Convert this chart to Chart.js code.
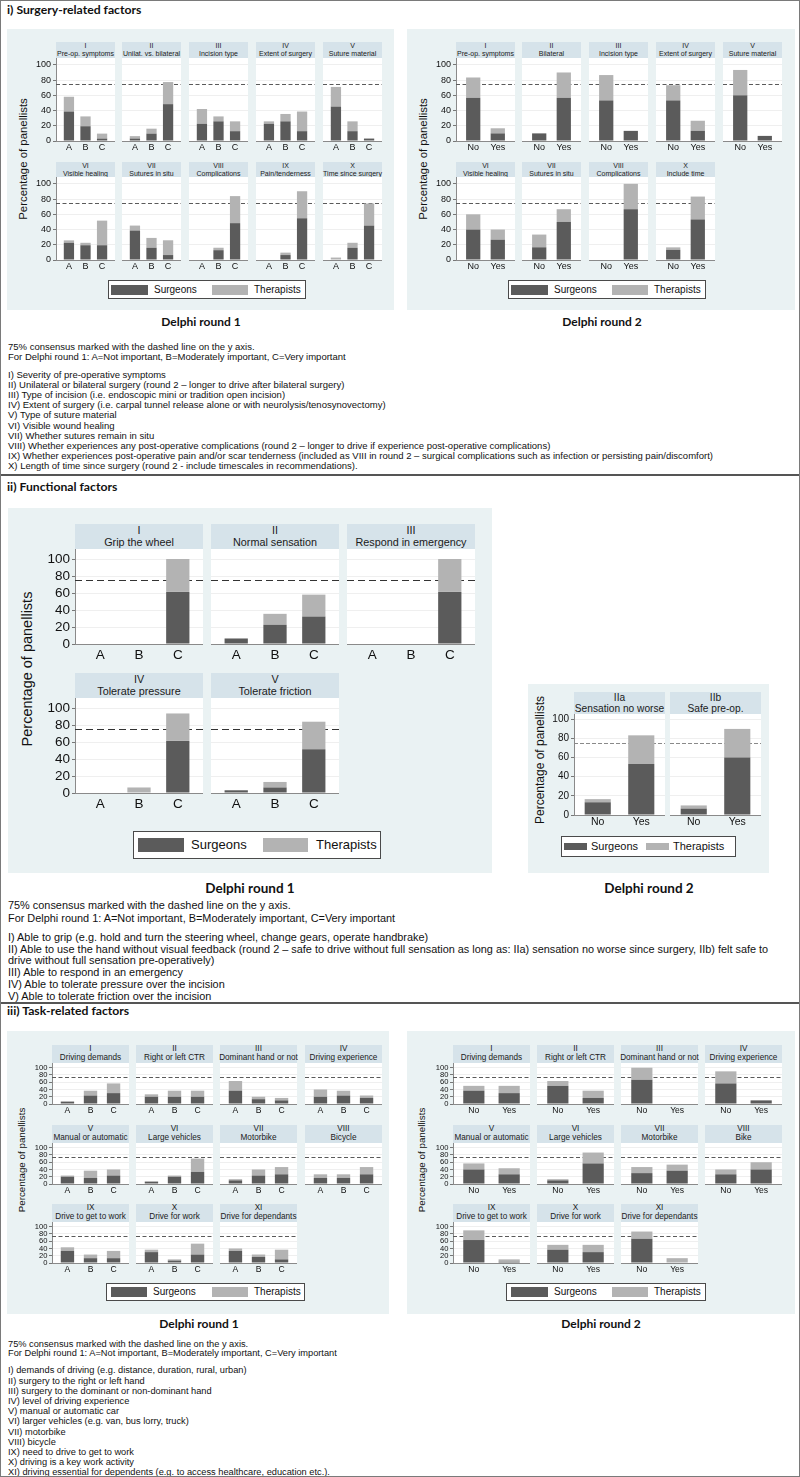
<!DOCTYPE html>
<html><head><meta charset="utf-8">
<script src="https://cdn.jsdelivr.net/npm/chart.js@4/dist/chart.umd.min.js"></script>
<style>
body{margin:0;background:#fff;}
#page{position:relative;width:800px;height:1477px;overflow:hidden;font-family:"Liberation Sans",Arial,sans-serif;color:#111;box-sizing:border-box;border:1px solid #7a7a7a;}
.panel{position:absolute;background:#eaf2f3;}
.strip{position:absolute;background:#d6e3ea;display:flex;flex-direction:column;align-items:center;justify-content:center;text-align:center;color:#1a1a1a;white-space:nowrap;overflow:visible;}
.sec{position:absolute;font-family:Lato,"Open Sans",sans-serif;font-weight:700;white-space:nowrap;color:#111;}
.note{position:absolute;left:7px;white-space:nowrap;color:#111;}
.ytitle{position:absolute;white-space:nowrap;transform:translate(-50%,-50%) rotate(-90deg);color:#111;}
.legend{position:absolute;background:#fff;border:1px solid #4a4a4a;box-sizing:border-box;}
.sw{position:absolute;}
.lt{position:absolute;white-space:nowrap;color:#111;}
.rule{position:absolute;left:0;width:800px;background:#555;}
canvas{position:absolute;}
</style></head>
<body><div id="page"></div>
<script>
// ---------------- DATA ----------------
const CONSENSUS = 75;
const yTickValues = [0, 20, 40, 60, 80, 100];
const catsR1 = ['A', 'B', 'C'];
const catsR2 = ['No', 'Yes'];
const seriesNames = ['Surgeons', 'Therapists'];

// i) Surgery-related factors
const s1r1Titles = [['I','Pre-op. symptoms'],['II','Unilat. vs. bilateral'],['III','Incision type'],['IV','Extent of surgery'],['V','Suture material'],['VI','Visible healing'],['VII','Sutures in situ'],['VIII','Complications'],['IX','Pain/tenderness'],['X','Time since surgery']];
const s1r1Surg = [[38.7,19.4,3.2],[3.2,9.7,48.4],[22.6,25.8,12.9],[22.6,25.8,12.9],[45.2,12.9,3.2],[22.6,19.4,19.4],[38.7,16.1,6.5],[0,12.9,48.4],[0,6.5,54.8],[0,16.1,45.2]];
const s1r1Ther = [[19.4,12.9,6.5],[3.2,6.5,29.0],[19.4,6.5,12.9],[3.2,9.7,25.8],[25.8,12.9,0],[3.2,3.2,32.3],[6.5,12.9,19.4],[0,3.2,35.5],[0,3.2,35.5],[3.2,6.5,29.0]];
const s1r2Titles = [['I','Pre-op. symptoms'],['II','Bilateral'],['III','Incision type'],['IV','Extent of surgery'],['V','Suture material'],['VI','Visible healing'],['VII','Sutures in situ'],['VIII','Complications'],['X','Include time']];
const s1r2Surg = [[56.7,10.0],[10.0,56.7],[53.3,13.3],[53.3,13.3],[60.0,6.7],[40.0,26.7],[16.7,50.0],[0,66.7],[13.3,53.3]];
const s1r2Ther = [[26.7,6.7],[0,33.3],[33.3,0],[20.0,13.3],[33.3,0],[20.0,13.3],[16.7,16.7],[0,33.3],[3.3,30.0]];

// ii) Functional factors
const s2r1Titles = [['I','Grip the wheel'],['II','Normal sensation'],['III','Respond in emergency'],['IV','Tolerate pressure'],['V','Tolerate friction']];
const s2r1Surg = [[0,0,61.3],[6.5,22.6,32.3],[0,0,61.3],[0,0,61.3],[3.2,6.5,51.6]];
const s2r1Ther = [[0,0,38.7],[0,12.9,25.8],[0,0,38.7],[0,6.5,32.3],[0,6.5,32.3]];
const s2r2Titles = [['IIa','Sensation no worse'],['IIb','Safe pre-op.']];
const s2r2Surg = [[13.3,53.3],[6.7,60.0]];
const s2r2Ther = [[3.3,30.0],[3.3,30.0]];

// iii) Task-related factors
const s3r1Titles = [['I','Driving demands'],['II','Right or left CTR'],['III','Dominant hand or not'],['IV','Driving experience'],['V','Manual or automatic'],['VI','Large vehicles'],['VII','Motorbike'],['VIII','Bicycle'],['IX','Drive to get to work'],['X','Drive for work'],['XI','Drive for dependants']];
const s3r1Surg = [[6.7,23.3,30.0],[20.0,20.0,20.0],[36.7,13.3,10.0],[20.0,23.3,16.7],[20.0,16.7,23.3],[6.7,20.0,33.3],[10.0,23.3,26.7],[16.7,16.7,26.7],[33.3,13.3,13.3],[30.0,6.7,23.3],[33.3,16.7,10.0]];
const s3r1Ther = [[0,13.3,26.7],[6.7,16.7,16.7],[26.7,6.7,6.7],[20.0,13.3,6.7],[3.3,20.0,16.7],[0,3.3,36.7],[3.3,16.7,20.0],[10.0,10.0,20.0],[10.0,10.0,20.0],[6.7,3.3,30.0],[6.7,6.7,26.7]];
const s3r2Titles = [['I','Driving demands'],['II','Right or left CTR'],['III','Dominant hand or not'],['IV','Driving experience'],['V','Manual or automatic'],['VI','Large vehicles'],['VII','Motorbike'],['VIII','Bike'],['IX','Drive to get to work'],['X','Drive for work'],['XI','Drive for dependants']];
const s3r2Surg = [[36.7,30.0],[50.0,16.7],[66.7,0],[56.7,10.0],[40.0,26.7],[10.0,56.7],[30.0,36.7],[26.7,40.0],[63.3,3.3],[36.7,30.0],[66.7,0]];
const s3r2Ther = [[13.3,20.0],[13.3,20.0],[33.3,0],[33.3,0],[16.7,16.7],[3.3,30.0],[16.7,16.7],[13.3,20.0],[26.7,6.7],[13.3,20.0],[20.0,13.3]];

const notes1 = ['75% consensus marked with the dashed line on the y axis.','For Delphi round 1: A=Not important, B=Moderately important, C=Very important','I) Severity of pre-operative symptoms','II) Unilateral or bilateral surgery (round 2 \u2013 longer to drive after bilateral surgery)','III) Type of incision (i.e. endoscopic mini or tradition open incision)','IV) Extent of surgery (i.e. carpal tunnel release alone or with neurolysis/tenosynovectomy)','V) Type of suture material','VI) Visible wound healing','VII) Whether sutures remain in situ','VIII) Whether experiences any post-operative complications (round 2 \u2013 longer to drive if experience post-operative complications)','IX) Whether experiences post-operative pain and/or scar tenderness (included as VIII in round 2 \u2013 surgical complications such as infection or persisting pain/discomfort)','X) Length of time since surgery (round 2 - include timescales in recommendations).'];
const notes2 = ['75% consensus marked with the dashed line on the y axis.','For Delphi round 1: A=Not important, B=Moderately important, C=Very important','I) Able to grip (e.g. hold and turn the steering wheel, change gears, operate handbrake)','II) Able to use the hand without visual feedback (round 2 \u2013 safe to drive without full sensation as long as: IIa) sensation no worse since surgery, IIb) felt safe to','drive without full sensation pre-operatively)','III) Able to respond in an emergency','IV) Able to tolerate pressure over the incision','V) Able to tolerate friction over the incision'];
const notes3 = ['75% consensus marked with the dashed line on the y axis.','For Delphi round 1: A=Not important, B=Moderately important, C=Very important','I) demands of driving (e.g. distance, duration, rural, urban)','II) surgery to the right or left hand','III) surgery to the dominant or non-dominant hand','IV) level of driving experience','V) manual or automatic car','VI) larger vehicles (e.g. van, bus lorry, truck)','VII) motorbike','VIII) bicycle','IX) need to drive to get to work','X) driving is a key work activity','XI) driving essential for dependents (e.g. to access healthcare, education etc.).'];

// ---------------- RENDERING ----------------
const FONT = '"Liberation Sans", Arial, sans-serif';
const SURG_COLOR = '#5b5b5b', THER_COLOR = '#b3b3b3';
Chart.defaults.font.family = FONT;
Chart.defaults.color = '#111';
const page = document.getElementById('page');

function el(cls, css, text){
  const d = document.createElement('div');
  if (cls) d.className = cls;
  Object.assign(d.style, css);
  if (text != null) d.textContent = text;
  page.appendChild(d);
  return d;
}

const framePlugin = {
  id: 'frame',
  beforeDraw(chart){
    const {ctx, chartArea: a} = chart;
    ctx.save(); ctx.fillStyle = '#ffffff';
    ctx.fillRect(a.left, a.top, a.right - a.left, a.bottom - a.top);
    ctx.restore();
  },
  beforeDatasetsDraw(chart, args, opts){
    const {ctx, chartArea: a} = chart;
    const py = Math.round(chart.scales.y.getPixelForValue(CONSENSUS)) + 0.5;
    ctx.save(); ctx.strokeStyle = opts.color; ctx.lineWidth = opts.width; ctx.setLineDash(opts.dash);
    ctx.beginPath(); ctx.moveTo(a.left, py); ctx.lineTo(a.right, py); ctx.stroke(); ctx.restore();
  }
};

function addChart(sp){
  const c = document.createElement('canvas');
  const cw = sp.w + sp.yW, ch = sp.h + sp.xH;
  c.width = cw; c.height = ch;
  Object.assign(c.style, {left: (sp.left - sp.yW) + 'px', top: sp.top + 'px', width: cw + 'px', height: ch + 'px'});
  page.appendChild(c);
  const pts = arr => arr.map((v, i) => ({x: i + 1, y: v}));
  new Chart(c, {
    type: 'bar',
    data: {datasets: [
      {label: seriesNames[0], data: pts(sp.surg), backgroundColor: SURG_COLOR, borderWidth: 0},
      {label: seriesNames[1], data: pts(sp.ther), backgroundColor: THER_COLOR, borderWidth: 0}
    ]},
    options: {
      responsive: false, animation: false, devicePixelRatio: 1,
      layout: {padding: 0},
      events: [],
      datasets: {bar: {barPercentage: sp.barPct, categoryPercentage: 1}},
      plugins: {legend: {display: false}, tooltip: {enabled: false},
        frame: {color: sp.dashColor, width: sp.dashWidth, dash: sp.dash}},
      scales: {
        x: {type: 'linear', stacked: true, min: sp.xmin, max: sp.xmax, offset: false,
          afterBuildTicks: s => { s.ticks = sp.cats.map((_, i) => ({value: i + 1})); },
          ticks: {callback: v => sp.cats[Math.round(v) - 1] ?? '', font: {size: sp.catFont, family: FONT}, color: '#111',
            padding: sp.catPad, autoSkip: false, maxRotation: 0, minRotation: 0},
          grid: {display: false, drawTicks: false, offset: false},
          border: {display: true, color: '#8a8a8a', width: 1},
          afterFit: s => { s.height = sp.xH; s.paddingLeft = 0; s.paddingRight = 0; }
        },
        y: {type: 'linear', stacked: true, min: 0, max: sp.ymax,
          afterBuildTicks: s => { s.ticks = yTickValues.map(v => ({value: v})); },
          ticks: {display: sp.showY, font: {size: sp.tickFont, family: FONT}, color: '#111', padding: sp.tickPad, autoSkip: false},
          grid: {color: '#efefef', lineWidth: 1, drawTicks: sp.showY, tickLength: 3, tickColor: '#777'},
          border: {display: sp.showY, color: '#8a8a8a', width: 1},
          afterFit: s => { s.width = sp.yW; s.paddingTop = 0; s.paddingBottom = 0; }
        }
      }
    },
    plugins: [framePlugin]
  });
}

function addStrip(left, top, w, h, lines, fs, lh){
  const d = el('strip', {left: left + 'px', top: top + 'px', width: w + 'px', height: h + 'px', fontSize: fs + 'px', lineHeight: lh + 'px'});
  lines.forEach(t => { const s = document.createElement('div'); s.textContent = t; d.appendChild(s); });
}

function grid(cfg, titles, surg, ther, cats){
  titles.forEach((t, i) => {
    const r = Math.floor(i / cfg.perRow), col = i % cfg.perRow;
    const row = cfg.rows[r];
    const left = cfg.cols[col];
    addStrip(left, row.strip, cfg.w, row.plot - row.strip, t, cfg.stripFont, cfg.stripLH);
    addChart(Object.assign({}, cfg.chart, {left, top: row.plot, w: cfg.w, h: cfg.h, yW: col === 0 ? cfg.yW : 0,
      showY: col === 0, cats, surg: surg[i], ther: ther[i]}));
  });
}

function legend(box, fs, items){
  el('legend', {left: box[0] + 'px', top: box[1] + 'px', width: box[2] + 'px', height: box[3] + 'px'});
  items.forEach((it, k) => {
    el('sw', {left: it.sx + 'px', top: it.sy + 'px', width: it.sw + 'px', height: it.sh + 'px', background: k === 0 ? SURG_COLOR : THER_COLOR});
    el('lt', {left: it.tx + 'px', top: (box[1] + box[3] / 2 - fs * 0.6) + 'px', fontSize: fs + 'px', lineHeight: (fs * 1.2) + 'px'}, seriesNames[k]);
  });
}

function ytitle(x, y, fs){ el('ytitle', {left: x + 'px', top: y + 'px', fontSize: fs + 'px'}, 'Percentage of panellists'); }
function secTitle(x, y, fs, text){ el('sec', {left: x + 'px', top: (y - fs * 0.65) + 'px', fontSize: fs + 'px', lineHeight: (fs * 1.3) + 'px'}, text); }
function centerTitle(x, y, fs, text){ el('sec', {left: x + 'px', top: (y - fs * 0.65) + 'px', fontSize: fs + 'px', lineHeight: (fs * 1.3) + 'px', transform: 'translateX(-50%)'}, text); }
function notes(lines, ys, fs){ lines.forEach((t, i) => el('note', {top: (ys[i] - fs * 0.6) + 'px', fontSize: fs + 'px', lineHeight: (fs * 1.2) + 'px'}, t)); }
function rule(y, h){ el('rule', {top: y + 'px', height: h + 'px'}); }

// ---------- Section i ----------
secTitle(6, 9, 12.2, 'i) Surgery-related factors');
el('panel', {left: '6px', top: '28px', width: '387px', height: '281px'});
el('panel', {left: '406px', top: '28px', width: '388px', height: '281px'});
const s1Chart = {xH: 14, ymax: 109, tickFont: 9, catFont: 9, catPad: 1, tickPad: 2, dashColor: '#5a5a5a', dashWidth: 1, dash: [4, 2.5]};
const s1Rows = [{strip: 41, plot: 57}, {strip: 161, plot: 176}];
grid({perRow: 5, cols: [55, 121, 188, 255, 322], w: 59, h: 83, yW: 22, rows: s1Rows, stripFont: 7, stripLH: 7.8,
  chart: Object.assign({xmin: 0.22, xmax: 3.78, barPct: 0.62}, s1Chart)}, s1r1Titles, s1r1Surg, s1r1Ther, catsR1);
grid({perRow: 5, cols: [455, 521, 588, 655, 722], w: 59, h: 83, yW: 22, rows: s1Rows, stripFont: 7, stripLH: 7.8,
  chart: Object.assign({xmin: 0.3, xmax: 2.7, barPct: 0.58}, s1Chart)}, s1r2Titles, s1r2Surg, s1r2Ther, catsR2);
ytitle(22, 158, 11.4); ytitle(422, 158, 11.4);
legend([107, 279, 198, 19], 10, [{sx: 110, sy: 284, sw: 37, sh: 10, tx: 153}, {sx: 211, sy: 284, sw: 36, sh: 10, tx: 253}]);
legend([507, 279, 198, 19], 10, [{sx: 510, sy: 284, sw: 37, sh: 10, tx: 553}, {sx: 611, sy: 284, sw: 36, sh: 10, tx: 653}]);
centerTitle(200, 321, 12, 'Delphi round 1');
centerTitle(601, 321, 12, 'Delphi round 2');
notes(notes1, [345.7, 355.7, 373.3, 383.5, 393.7, 403.9, 414.1, 424.3, 434.5, 444.7, 454.9, 465.1], 9.5);
rule(473, 2);

// ---------- Section ii ----------
secTitle(6, 486, 12.2, 'ii) Functional factors');
el('panel', {left: '7px', top: '507px', width: '484px', height: '365px'});
el('panel', {left: '527px', top: '683px', width: '241px', height: '189px'});
grid({perRow: 3, cols: [74, 210, 346], w: 128, h: 95, yW: 30, rows: [{strip: 523, plot: 548}, {strip: 672, plot: 697}], stripFont: 10.8, stripLH: 11.5,
  chart: {xH: 22, ymax: 111.8, tickFont: 13.5, catFont: 13.5, catPad: 3, tickPad: 2, dashColor: '#333', dashWidth: 1.2, dash: [7, 4],
    xmin: 0.35, xmax: 3.65, barPct: 0.6}}, s2r1Titles, s2r1Surg, s2r1Ther, catsR1);
grid({perRow: 2, cols: [573, 669], w: 91, h: 101, yW: 22, rows: [{strip: 691, plot: 713}], stripFont: 10.2, stripLH: 11,
  chart: {xH: 14, ymax: 105.6, tickFont: 10, catFont: 10.5, catPad: 1, tickPad: 2, dashColor: '#8a8a8a', dashWidth: 1, dash: [4, 2],
    xmin: 0.455, xmax: 2.545, barPct: 0.6}}, s2r2Titles, s2r2Surg, s2r2Ther, catsR2);
ytitle(26, 668, 14.5); ytitle(539, 759, 12);
legend([132, 830, 248, 28], 13, [{sx: 137, sy: 837, sw: 46, sh: 14, tx: 190}, {sx: 262, sy: 837, sw: 45, sh: 14, tx: 315}]);
legend([560, 835, 175, 21], 11, [{sx: 563, sy: 842, sw: 23, sh: 7, tx: 590}, {sx: 645, sy: 842, sw: 23, sh: 7, tx: 672}]);
centerTitle(249, 888, 13.5, 'Delphi round 1');
centerTitle(648, 888, 13.5, 'Delphi round 2');
notes(notes2, [905, 918, 936.5, 948.5, 960, 971.5, 983.5, 995.5], 10.9);
rule(1001, 2);

// ---------- Section iii ----------
secTitle(6, 1010, 12.2, 'iii) Task-related factors');
el('panel', {left: '6px', top: '1030px', width: '382px', height: '283px'});
el('panel', {left: '406px', top: '1030px', width: '388px', height: '283px'});
const s3Rows = [{strip: 1044, plot: 1062}, {strip: 1124, plot: 1142}, {strip: 1203, plot: 1221}];
const s3Chart = {xH: 13, ymax: 113, tickFont: 7.6, catFont: 8.6, catPad: 1, tickPad: 1.5, dashColor: '#5a5a5a', dashWidth: 1, dash: [4, 2.5]};
grid({perRow: 4, cols: [51, 135, 219, 304], w: 77, h: 41, yW: 20, rows: s3Rows, stripFont: 8.2, stripLH: 8.6,
  chart: Object.assign({xmin: 0.33, xmax: 3.67, barPct: 0.58}, s3Chart)}, s3r1Titles, s3r1Surg, s3r1Ther, catsR1);
grid({perRow: 4, cols: [452, 536, 620, 704], w: 77, h: 41, yW: 20, rows: s3Rows, stripFont: 8.2, stripLH: 8.6,
  chart: Object.assign({xmin: 0.41, xmax: 2.59, barPct: 0.6}, s3Chart)}, s3r2Titles, s3r2Surg, s3r2Ther, catsR2);
ytitle(20, 1159, 9.8); ytitle(420, 1159, 9.8);
legend([105, 1282, 199, 18], 10, [{sx: 110, sy: 1286, sw: 36, sh: 10, tx: 152}, {sx: 211, sy: 1286, sw: 36, sh: 10, tx: 253}]);
legend([505, 1282, 200, 18], 10, [{sx: 510, sy: 1286, sw: 37, sh: 10, tx: 553}, {sx: 611, sy: 1286, sw: 36, sh: 10, tx: 653}]);
centerTitle(198, 1323, 12, 'Delphi round 1');
centerTitle(600, 1323, 12, 'Delphi round 2');
notes(notes3, [1343.3, 1352.9, 1370, 1380.2, 1390.4, 1400.6, 1410.8, 1421, 1431.2, 1441.4, 1451.6, 1461.8, 1472], 9.25);
</script>
</body></html>
